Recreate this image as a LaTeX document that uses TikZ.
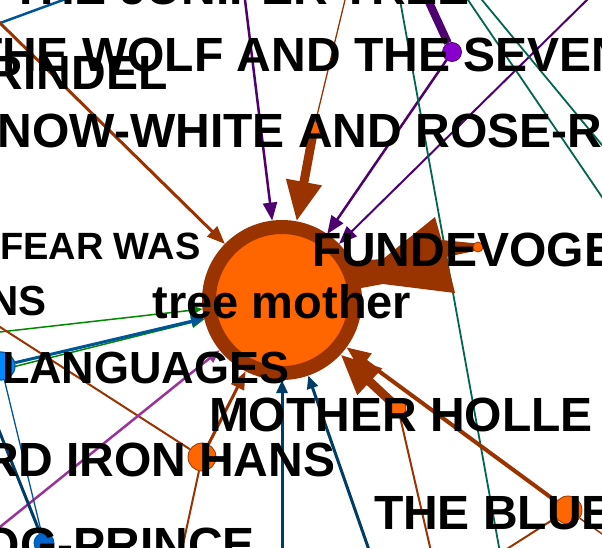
\documentclass[tikz,border=0pt]{standalone}
\usepackage{fontspec}
\setmainfont{Liberation Sans}
\usetikzlibrary{arrows.meta,backgrounds}
\definecolor{cbrown}{RGB}{153,51,0}
\definecolor{corange}{RGB}{255,102,0}
\definecolor{cdpurple}{RGB}{77,0,110}
\definecolor{cpurplenode}{RGB}{136,0,204}
\definecolor{cteal}{RGB}{0,102,80}
\definecolor{cgreen}{RGB}{0,136,0}
\definecolor{cblue}{RGB}{0,85,153}
\definecolor{cnavy}{RGB}{0,61,102}
\definecolor{cmagenta}{RGB}{153,51,153}
\definecolor{clightblue}{RGB}{0,136,255}
\definecolor{cfrog}{RGB}{0,102,204}
\begin{document}
\begin{tikzpicture}[x=1pt,y=-1pt,
  lbl/.style={inner sep=0pt, outer sep=0pt, text=black, font=\fontsize{#1}{#1}\selectfont\bfseries},
  lbl/.default=48,
  tmnode/.style={circle, inner sep=0pt, minimum size=146pt, fill=corange, draw=cbrown, line width=14pt},
  onode/.style={circle, inner sep=0pt, minimum size=#1, fill=corange, draw=cbrown, line width=0.8pt},
  pnode/.style={circle, inner sep=0pt, minimum size=19pt, fill=cpurplenode, draw=cdpurple, line width=0.8pt},
  lbnode/.style={circle, inner sep=0pt, minimum size=28pt, fill=clightblue, draw=cblue, line width=1.2pt},
  frognode/.style={circle, inner sep=0pt, minimum size=20pt, fill=cfrog, draw=cblue, line width=0.8pt},
  bigarrow/.style={-{Triangle[length=40pt,width=34pt]}},
  midarrow/.style={-{Triangle[length=24pt,width=19pt]}},
  thinarrow/.style={-{Triangle[length=18pt,width=14pt]}},
  smallarrow/.style={-{Triangle[length=13pt,width=11pt]}},
]
\useasboundingbox (0,0) rectangle (602,547);
\begin{scope}
\clip (0,0) rectangle (602,547);
% ---------- nodes ----------
\node[tmnode] (tm) at (282,300) {};
\node[onode=14pt] (nand) at (314,128) {};
\node[pnode] (wolf) at (452,52) {};
\node[onode=10pt] (fv) at (478,247) {};
\node[onode=16pt] (mh) at (398,408) {};
\node[onode=28pt] (ih) at (202,457) {};
\node[onode=28pt] (blue) at (568,510) {};
\node[lbnode] (lang) at (1,366) {};
\node[frognode] (frog) at (44,543) {};
% ---------- free ends ----------
\coordinate (a1s) at (-10,26.7);
\coordinate (a1e) at (72,-3.3);
\coordinate (a2) at (-10,13.2);
\coordinate (a3) at (244.4,-5);
\coordinate (a4) at (346.2,-5);
\coordinate (a6) at (425.7,-5);
\coordinate (a8) at (592,-5);
\coordinate (a9s) at (399.1,-5);
\coordinate (a9e) at (500.8,557);
\coordinate (a10s) at (464.6,-5);
\coordinate (a10e) at (615.6,217);
\coordinate (a11s) at (477.9,-5);
\coordinate (a11e) at (614.4,160);
\coordinate (a12) at (-10,333.1);
\coordinate (a13) at (-30,377.6);
\coordinate (a14) at (-10,320.6);
\coordinate (a16) at (179.7,560);
\coordinate (a17) at (-10,535);
\coordinate (a19) at (-6,418);
\coordinate (a20) at (282,560);
\coordinate (a21) at (372.5,560);
\coordinate (a24) at (433,560);
\coordinate (a25) at (489.6,560);
\coordinate (a26) at (615,543);
\end{scope}
% ---------- edges (behind nodes) ----------
\begin{pgfonlayer}{background}
\fill[white] (0,0) rectangle (602,547);
\clip (0,0) rectangle (602,547);
\draw[cblue, line width=2.5pt] (a1s) -- (a1e);
\draw[cbrown, line width=3pt, thinarrow] (a2) -- (tm);
\draw[cdpurple, line width=2.5pt, thinarrow] (a3) -- (tm);
\draw[cbrown, line width=1.3pt] (a4) -- (nand);
\draw[cbrown, line width=9pt, bigarrow] (nand) -- (tm);
\draw[cdpurple, line width=8pt] (a6) -- (wolf);
\draw[cdpurple, line width=2.5pt, thinarrow] (wolf) -- (tm);
\draw[cdpurple, line width=2pt, thinarrow] (a8) -- (tm);
\draw[cteal, line width=1.8pt] (a9s) -- (a9e);
\draw[cteal, line width=1.8pt] (a10s) -- (a10e);
\draw[cteal, line width=1.8pt] (a11s) -- (a11e);
\draw[cgreen, line width=1.5pt, smallarrow] (a12) -- (tm);
\draw[cgreen, line width=1.5pt, smallarrow] (a13) -- (tm);
\draw[cblue, line width=3pt, smallarrow] (lang) -- (tm);
\draw[cbrown, line width=2pt] (a14) -- (ih);
\draw[cbrown, line width=3pt, thinarrow] (ih) -- (tm);
\draw[cbrown, line width=2pt] (a16) -- (ih);
\draw[cmagenta, line width=2.5pt, smallarrow] (a17) -- (tm);
\draw[cblue, line width=1.3pt] (lang) -- (frog);
\draw[cnavy, line width=3pt] (a19) -- (frog);
\draw[cnavy, line width=3pt, smallarrow] (a20) -- (tm);
\draw[cnavy, line width=3pt, smallarrow] (a21) -- (tm);
\draw[cbrown, line width=9pt, bigarrow] (mh) -- (tm);
\draw[cbrown, line width=4pt, midarrow] (blue) -- (tm);
\draw[cbrown, line width=2pt] (mh) -- (a24);
\draw[cbrown, line width=2pt] (blue) -- (a25);
\draw[cbrown, line width=1.5pt] (blue) -- (a26);
% Fundevogel tapered edge
\fill[cbrown] (340,262) -- (383,259) -- (435,217) -- (441.5,240) -- (477,243.5)
  -- (477,250.5) -- (446,257) -- (455,293) -- (383,284) -- (345,291) -- cycle;
\end{pgfonlayer}
% ---------- labels ----------
\begin{scope}
\clip (0,0) rectangle (602,547);
\node[lbl, anchor=base west] (tjuniper) at (11,4.5) {THE JUNIPER TREE};
\node[lbl, anchor=base west] (twolf) at (-27,71.5) {THE WOLF AND THE SEVEN};
\node[lbl, anchor=base west] (trindel) at (-11,89.5) {RINDEL};
\node[lbl, anchor=base west] (tsnow) at (-2,147) {NOW-WHITE AND ROSE-R};
\node[lbl=38, anchor=base west] (tfear) at (0,259.5) {FEAR WAS};
\node[lbl, anchor=base west] (tfund) at (312,266) {FUNDEVOGE};
\node[lbl=42, anchor=base west] (tns) at (-12,315) {NS};
\node[lbl=47, anchor=base] (ttm) at (282,318) {tree mother};
\node[lbl=45, anchor=base west] (tlang) at (2,383) {LANGUAGES};
\node[lbl, anchor=base west] (tmh) at (209,431) {MOTHER HOLLE};
\node[lbl, anchor=base west] (trd) at (-16,476.5) {RD};
\node[lbl, anchor=base west] (tih) at (66,476.5) {IRON HANS};
\node[lbl, anchor=base west] (tblue) at (374,529) {THE BLUE};
\node[lbl, anchor=base west] (tfrog) at (-17,561) {OG-PRINCE};
\end{scope}
\end{tikzpicture}
\end{document}
